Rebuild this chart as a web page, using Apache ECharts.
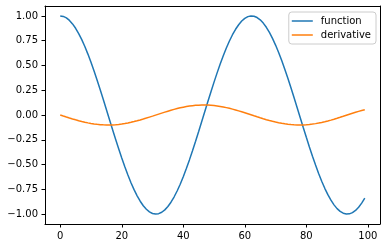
<!DOCTYPE html>
<html>
<head>
<meta charset="utf-8">
<script src="https://cdn.jsdelivr.net/npm/echarts@6/dist/echarts.min.js"></script>
<style>
html,body{margin:0;padding:0;background:#fff;}
#chart{width:386px;height:248px;}
</style>
</head>
<body>
<div id="chart"></div>
<script>
const seriesNames = ['function', 'derivative'];
const functionValues = [
 1.0000, 0.9949, 0.9797, 0.9544, 0.9195, 0.8751, 0.8219, 0.7603, 0.6909, 0.6145,
 0.5318, 0.4437, 0.3510, 0.2548, 0.1560, 0.0556, -0.0454, -0.1459, -0.2449, -0.3414,
 -0.4344, -0.5230, -0.6063, -0.6834, -0.7536, -0.8160, -0.8701, -0.9154, -0.9513, -0.9775,
 -0.9938, -0.9999, -0.9959, -0.9817, -0.9575, -0.9235, -0.8801, -0.8277, -0.7669, -0.6983,
 -0.6225, -0.5405, -0.4529, -0.3606, -0.2648, -0.1662, -0.0659, 0.0351, 0.1357, 0.2349,
 0.3317, 0.4251, 0.5142, 0.5981, 0.6759, 0.7468, 0.8100, 0.8650, 0.9112, 0.9481,
 0.9753, 0.9926, 0.9998, 0.9968, 0.9836, 0.9604, 0.9274, 0.8849, 0.8334, 0.7735,
 0.7056, 0.6305, 0.5491, 0.4620, 0.3702, 0.2746, 0.1763, 0.0761, -0.0248, -0.1255,
 -0.2249, -0.3220, -0.4158, -0.5054, -0.5898, -0.6683, -0.7399, -0.8039, -0.8598, -0.9069,
 -0.9448, -0.9730, -0.9913, -0.9995, -0.9975, -0.9854, -0.9632, -0.9312, -0.8897, -0.8391
];
const derivativeValues = [
 0.0000, -0.0102, -0.0202, -0.0301, -0.0396, -0.0488, -0.0574, -0.0655, -0.0729, -0.0796,
 -0.0854, -0.0904, -0.0944, -0.0975, -0.0996, -0.1007, -0.1007, -0.0998, -0.0978, -0.0948,
 -0.0908, -0.0859, -0.0802, -0.0736, -0.0663, -0.0583, -0.0497, -0.0406, -0.0311, -0.0212,
 -0.0112, -0.0010, 0.0091, 0.0192, 0.0291, 0.0387, 0.0479, 0.0566, 0.0647, 0.0722,
 0.0789, 0.0848, 0.0899, 0.0941, 0.0972, 0.0994, 0.1006, 0.1008, 0.0999, 0.0980,
 0.0951, 0.0913, 0.0865, 0.0808, 0.0743, 0.0671, 0.0591, 0.0506, 0.0415, 0.0321,
 0.0223, 0.0122, 0.0021, -0.0081, -0.0182, -0.0281, -0.0377, -0.0470, -0.0557, -0.0639,
 -0.0715, -0.0783, -0.0843, -0.0894, -0.0937, -0.0970, -0.0993, -0.1006, -0.1008, -0.1000,
 -0.0983, -0.0955, -0.0917, -0.0870, -0.0814, -0.0750, -0.0678, -0.0600, -0.0515, -0.0425,
 -0.0330, -0.0233, -0.0133, -0.0031, 0.0071, 0.0172, 0.0271, 0.0368, 0.0460, 0.0540
];
const xTicks = [0, 20, 40, 60, 80, 100];
const yTicks = [-1.00, -0.75, -0.50, -0.25, 0.00, 0.25, 0.50, 0.75, 1.00];

const FONT = '"DejaVu Sans", sans-serif';
const chart = echarts.init(document.getElementById('chart'), null, {renderer: 'canvas'});

function toPairs(arr) { return arr.map((v, i) => [i, v]); }
function fmtY(v) {
  const s = Math.abs(v).toFixed(2);
  return (v < -1e-9 ? '\u2212' : '') + s;
}
const X_MIN = -4.95, X_MAX = 103.95, Y_MIN = -1.1, Y_MAX = 1.1;
const frameLine = {show: true, onZero: false, lineStyle: {color: '#000', width: 1}};

chart.setOption({
  animation: false,
  backgroundColor: '#ffffff',
  grid: {left: 45, right: 6, top: 6, bottom: 24},
  legend: {
    data: seriesNames,
    orient: 'vertical',
    right: 10, top: 12,
    icon: 'rect',
    itemWidth: 21, itemHeight: 1.5,
    itemGap: 2,
    padding: [3, 5, 3, 3],
    backgroundColor: 'rgba(255,255,255,0.8)',
    borderColor: '#cccccc', borderWidth: 1, borderRadius: 3,
    textStyle: {fontFamily: FONT, fontSize: 10, color: '#000', lineHeight: 12, padding: [0, 0, 0, 3]}
  },
  xAxis: [
    {
      type: 'value', position: 'bottom',
      min: X_MIN, max: X_MAX,
      splitLine: {show: false},
      axisLine: frameLine,
      axisTick: {show: true, customValues: xTicks, length: 3.5, lineStyle: {color: '#000', width: 1}},
      axisLabel: {customValues: xTicks, margin: 7, fontFamily: FONT, fontSize: 10, color: '#000'}
    },
    {
      type: 'value', position: 'top',
      min: X_MIN, max: X_MAX,
      splitLine: {show: false}, axisLine: frameLine,
      axisTick: {show: false}, axisLabel: {show: false}
    }
  ],
  yAxis: [
    {
      type: 'value', position: 'left',
      min: Y_MIN, max: Y_MAX,
      splitLine: {show: false},
      axisLine: frameLine,
      axisTick: {show: true, customValues: yTicks, length: 3.5, lineStyle: {color: '#000', width: 1}},
      axisLabel: {customValues: yTicks, margin: 7, fontFamily: FONT, fontSize: 10, color: '#000', formatter: fmtY}
    },
    {
      type: 'value', position: 'right',
      min: Y_MIN, max: Y_MAX,
      splitLine: {show: false}, axisLine: frameLine,
      axisTick: {show: false}, axisLabel: {show: false}
    }
  ],
  series: [
    {
      name: seriesNames[0], type: 'line', showSymbol: false, symbol: 'none',
      xAxisIndex: 0, yAxisIndex: 0,
      data: toPairs(functionValues),
      lineStyle: {color: '#1f77b4', width: 1.5}, itemStyle: {color: '#1f77b4'}
    },
    {
      name: seriesNames[1], type: 'line', showSymbol: false, symbol: 'none',
      xAxisIndex: 0, yAxisIndex: 0,
      data: toPairs(derivativeValues),
      lineStyle: {color: '#ff7f0e', width: 1.5}, itemStyle: {color: '#ff7f0e'}
    }
  ]
});
</script>
</body>
</html>
